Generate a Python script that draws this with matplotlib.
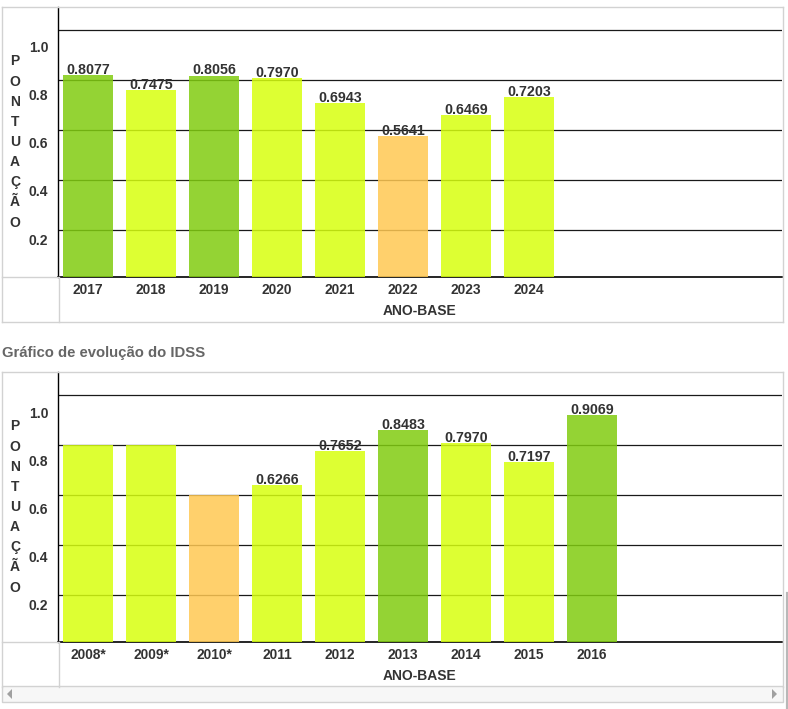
import matplotlib
matplotlib.use("Agg")
import matplotlib.pyplot as plt
from matplotlib.lines import Line2D
from matplotlib.patches import Rectangle, Polygon

plt.rcParams['font.family'] = ['Liberation Sans', 'DejaVu Sans']

# dados (ano-base e pontuação IDSS)
years_a = ['2017', '2018', '2019', '2020', '2021', '2022', '2023', '2024']
scores_a = [0.8077, 0.7475, 0.8056, 0.7970, 0.6943, 0.5641, 0.6469, 0.7203]
labels_a = ['0.8077', '0.7475', '0.8056', '0.7970', '0.6943', '0.5641', '0.6469', '0.7203']

years_b = ['2008*', '2009*', '2010*', '2011', '2012', '2013', '2014', '2015', '2016']
scores_b = [0.79, 0.79, 0.59, 0.6266, 0.7652, 0.8483, 0.7970, 0.7197, 0.9069]
labels_b = ['', '', '', '0.6266', '0.7652', '0.8483', '0.7970', '0.7197', '0.9069']

tick_vals = [0.2, 0.4, 0.6, 0.8, 1.0]
tick_text = ['0.2', '0.4', '0.6', '0.8', '1.0']
grid_levels = [0.19, 0.39, 0.59, 0.79, 0.99]

W, H = 788, 709
TXT = '#333333'
BORDER = '#d2d2d2'
ALPHA = 0.85


def band_color(v):
    # cor exibida sobre fundo branco -> cor base com transparência
    if v >= 0.8:
        disp = (148, 212, 52)
    elif v >= 0.6:
        disp = (221, 255, 51)
    else:
        disp = (255, 208, 108)
    base = [max(0, min(255, (c - 255 * (1 - ALPHA)) / ALPHA)) / 255 for c in disp]
    return (*base, ALPHA)


def fx(x):
    return x / W


def fy(y):
    return 1 - y / H


def hline(fig, x0, x1, y, color=BORDER, lw=1.0):
    fig.add_artist(Line2D([fx(x0), fx(x1)], [fy(y), fy(y)], color=color, lw=lw,
                          transform=fig.transFigure))


def vline(fig, x, y0, y1, color=BORDER, lw=1.0):
    fig.add_artist(Line2D([fx(x), fx(x)], [fy(y0), fy(y1)], color=color, lw=lw,
                          transform=fig.transFigure))


def draw_chart(fig, top, years, scores, labels):
    ax = fig.add_axes([fx(58), fy(top + 270), fx(782) - fx(58), 270 / H])
    xs = list(range(len(years)))
    ax.bar(xs, scores, width=0.794, color=[band_color(v) for v in scores], zorder=3)
    for x, v, t in zip(xs, scores, labels):
        if t:
            ax.annotate(t, (x, v), xytext=(0, 0.8), textcoords='offset points',
                        ha='center', va='baseline', fontsize=10.3, fontweight='bold',
                        color=TXT, zorder=5)
    ax.set_xlim(-0.476, 11.016)
    ax.set_ylim(0, 1.08)
    ax.set_yticks(grid_levels)
    ax.yaxis.grid(True, color='#1a1a1a', lw=0.9, zorder=1)
    ax.set_axisbelow(True)
    ax.tick_params(axis='y', length=0, labelleft=False)
    ax.set_xticks(xs)
    ax.set_xticklabels(years, fontsize=9.9, fontweight='bold', color=TXT)
    ax.tick_params(axis='x', length=0, pad=4.6)
    ax.set_xlabel('ANO-BASE', fontsize=10, fontweight='bold', color=TXT, labelpad=5)
    for s in ['top', 'right']:
        ax.spines[s].set_visible(False)
    ax.spines['left'].set_color('black')
    ax.spines['bottom'].set_color('black')
    ax.spines['left'].set_linewidth(1.0)
    ax.spines['bottom'].set_linewidth(1.2)

    # rótulos do eixo y (deslocados como no original)
    ax2 = ax.twinx()
    ax2.set_ylim(10 / 240, 280 / 240)
    ax2.set_yticks(tick_vals)
    ax2.set_yticklabels(tick_text, fontsize=10, fontweight='bold', color=TXT)
    ax2.yaxis.tick_left()
    ax2.tick_params(axis='y', length=0, pad=7)
    for s in ax2.spines.values():
        s.set_visible(False)

    ax.text(-43 / 724, 0.5, '\n'.join('PONTUAÇÃO'), transform=ax.transAxes,
            ha='center', va='center', fontsize=10, fontweight='bold', color=TXT,
            linespacing=1.56)

    # moldura estilo tabela
    bottom = top + 270
    hline(fig, 2, 783, top)
    vline(fig, 2, top, bottom + 45)
    vline(fig, 782.5, top, bottom + 45)
    hline(fig, 2, 58, bottom)
    vline(fig, 58.5, bottom, bottom + 45)
    return ax


fig = plt.figure(figsize=(W / 100, H / 100), dpi=100)
fig.patch.set_facecolor('white')

draw_chart(fig, 7, years_a, scores_a, labels_a)
hline(fig, 2, 783, 321.5)

fig.text(fx(2), fy(353), 'Gráfico de evolução do IDSS', ha='left', va='center',
         fontsize=10.7, fontweight='bold', color='#666666')

draw_chart(fig, 372, years_b, scores_b, labels_b)

# barra de rolagem
fig.add_artist(Rectangle((fx(2), fy(702)), fx(783) - fx(2), 16 / H, transform=fig.transFigure,
                         facecolor='#f7f7f7', edgecolor=BORDER, lw=1.0))
fig.add_artist(Polygon([(fx(7), fy(694)), (fx(12), fy(689)), (fx(12), fy(699))], closed=True,
                       transform=fig.transFigure, facecolor='#a0a0a0', edgecolor='none'))
fig.add_artist(Polygon([(fx(777), fy(694)), (fx(772), fy(689)), (fx(772), fy(699))], closed=True,
                       transform=fig.transFigure, facecolor='#a0a0a0', edgecolor='none'))
vline(fig, 786.5, 593, 709, color='#b8b8b8', lw=1.6)

fig.savefig('out.png', dpi=100, facecolor='white')
